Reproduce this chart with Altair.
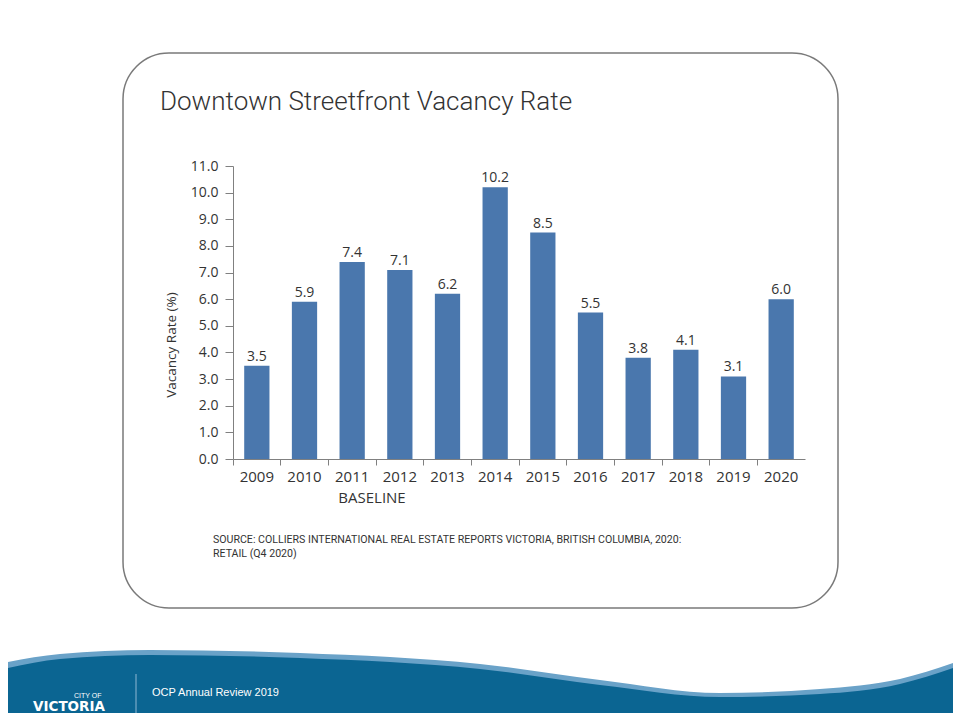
import altair as alt
import pandas as pd

# ---- chart data ----
years = ["2009", "2010", "2011", "2012", "2013", "2014", "2015", "2016", "2017", "2018", "2019", "2020"]
rates = [3.5, 5.9, 7.4, 7.1, 6.2, 10.2, 8.5, 5.5, 3.8, 4.1, 3.1, 6.0]
y_ticks = [0, 1, 2, 3, 4, 5, 6, 7, 8, 9, 10, 11]

# ---- texts ----
title_text = "Downtown Streetfront Vacancy Rate"
y_title = "Vacancy Rate (%)"
baseline_text = "BASELINE"
source_lines = [
    "SOURCE: COLLIERS INTERNATIONAL REAL ESTATE REPORTS VICTORIA, BRITISH COLUMBIA, 2020:",
    "RETAIL (Q4 2020)",
]
footer_text = "OCP Annual Review 2019"

# ---- decorative footer wave profile (pixels, plot-relative) ----
wave_x = [-225, -173, -83, 67, 247, 367, 487, 587, 667, 720]
wave_light_top = [496, 488, 484, 487, 498, 514, 527, 523, 513, 497]
wave_dark_top = [502, 493, 489, 492, 503, 519, 531, 528, 518, 502]
wave_bottom = [547] * len(wave_x)

W, H = 572, 293
BAR = "#4a77ad"
TXT = "#333333"
FONT = "Open Sans"

df = pd.DataFrame({"year": years, "rate": rates})
wave = pd.DataFrame({"wx": wave_x, "light": wave_light_top, "dark": wave_dark_top, "bot": wave_bottom})
one = pd.DataFrame({"k": [0]})

xscale = alt.Scale(domain=years, paddingInner=0, paddingOuter=0)
yscale = alt.Scale(domain=[0, 11], nice=False)
xaxis = alt.Axis(labelAngle=0, bandPosition=0, labelFont=FONT, labelFontSize=15,
                 labelColor=TXT, domainColor="#808080", tickColor="#808080",
                 tickSize=6, labelPadding=4, zindex=1)
yaxis = alt.Axis(values=y_ticks, format=".1f", grid=False, labelFont=FONT,
                 labelFontSize=14, labelColor=TXT, domainColor="#808080",
                 tickColor="#808080", tickSize=8, labelPadding=7, zindex=1,
                 labelOverlap=False, labelFlush=False, labelBound=False)

xenc = alt.X("year:N", sort=years, title=None, scale=xscale, axis=xaxis)
yenc = alt.Y("rate:Q", title=None, scale=yscale, axis=yaxis)

bars = alt.Chart(df).mark_bar(color=BAR, width=alt.RelativeBandSize(0.53)).encode(x=xenc, y=yenc)
labels = alt.Chart(df).mark_text(font=FONT, fontSize=14, color=TXT, baseline="bottom", dy=-2).encode(
    x=xenc, y=yenc, text=alt.Text("rate:Q", format=".1f"))
plot = alt.layer(bars, labels)

box = alt.Chart(one).mark_rect(fill="white", fillOpacity=0, stroke="#7a7a7a", strokeWidth=1.5,
                               cornerRadius=46).encode(
    x=alt.value(-110), x2=alt.value(605), y=alt.value(-113), y2=alt.value(442))

title = alt.Chart(one).mark_text(text=title_text, font="Roboto", fontWeight=300, fontSize=26,
                                 color="#333333", align="left", baseline="alphabetic").encode(
    x=alt.value(-73), y=alt.value(-56))

ytitle = alt.Chart(one).mark_text(text=y_title, font=FONT, fontSize=13.5, color=TXT, angle=270,
                                  align="center", baseline="middle").encode(
    x=alt.value(-61), y=alt.value(179))

base_lbl = alt.Chart(one).mark_text(text=baseline_text, font=FONT, fontSize=15, color=TXT,
                                    align="center", baseline="middle").encode(
    x=alt.value(139), y=alt.value(332))

src1 = alt.Chart(one).mark_text(text=source_lines[0], font="Roboto", fontSize=10.6,
                                color=TXT, align="left", baseline="middle").encode(
    x=alt.value(-20), y=alt.value(374))
src2 = alt.Chart(one).mark_text(text=source_lines[1], font="Roboto", fontSize=10.6,
                                color=TXT, align="left", baseline="middle").encode(
    x=alt.value(-20), y=alt.value(388))

light = alt.Chart(wave).mark_area(color="#6aa2c8", interpolate="monotone", orient="vertical").encode(
    x=alt.X("wx:Q", scale=None), y=alt.Y("light:Q", scale=None), y2=alt.Y2("bot:Q"))
dark = alt.Chart(wave).mark_area(color="#0b6592", interpolate="monotone", orient="vertical").encode(
    x=alt.X("wx:Q", scale=None), y=alt.Y("dark:Q", scale=None), y2=alt.Y2("bot:Q"))

sep = alt.Chart(one).mark_rule(color="#8fb8d3", strokeWidth=1).encode(
    x=alt.value(-97), y=alt.value(508), y2=alt.value(547))
foot = alt.Chart(one).mark_text(text=footer_text, font="Liberation Sans", fontSize=11, color="white",
                                align="left", baseline="middle").encode(
    x=alt.value(-81), y=alt.value(527))
city = alt.Chart(one).mark_text(text="CITY OF", font="Liberation Sans", fontSize=7, color="white",
                                align="left", baseline="middle").encode(
    x=alt.value(-159), y=alt.value(530))
vic = alt.Chart(one).mark_text(text="VICTORIA", font="DejaVu Sans", fontSize=13.5, fontWeight="bold",
                               color="white", align="left", baseline="middle").encode(
    x=alt.value(-200), y=alt.value(541))

chart = alt.layer(
    box, light, dark, plot, title, ytitle, base_lbl, src1, src2, sep, foot, city, vic
).resolve_scale(x="independent", y="independent").properties(
    width=W, height=H,
    autosize=alt.AutoSizeParams(type="none"),
    padding={"left": 225, "top": 158, "right": 148, "bottom": 254},
).configure_view(stroke=None)

chart.save("out.html", embed_options={"renderer": "svg", "actions": False})
